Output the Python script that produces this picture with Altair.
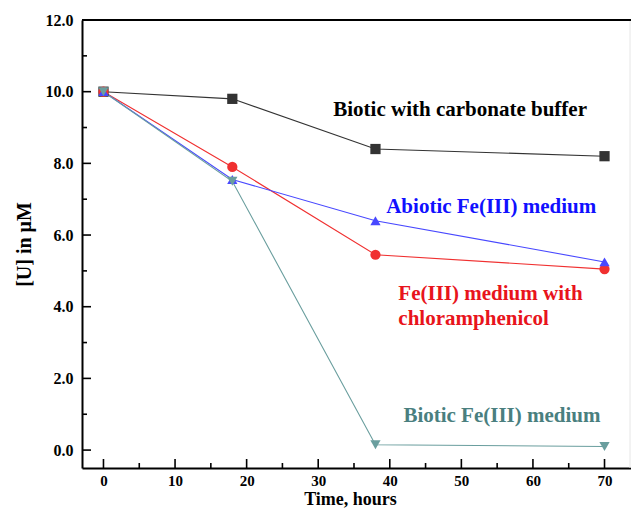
import altair as alt
import pandas as pd

# ---- data ----
time = [0, 18, 38, 70]
series_names = [
    "Biotic with carbonate buffer",
    "Fe(III) medium with chloramphenicol",
    "Abiotic Fe(III) medium",
    "Biotic Fe(III) medium",
]
carbonate = [10.0, 9.8, 8.4, 8.2]
chloram = [10.0, 7.9, 5.45, 5.05]
abiotic = [10.0, 7.55, 6.4, 5.25]
biotic_fe = [10.0, 7.5, 0.15, 0.1]

marker_colors = ["#000000", "#e8141c", "#1010ff", "#4a7f7f"]
line_colors = ["#333333", "#f03030", "#4848ff", "#6a9e9e"]
shapes = ["square", "circle", "triangle-up", "triangle-down"]

label_lines = [
    "Biotic with carbonate buffer",
    "Abiotic Fe(III) medium",
    "Fe(III) medium with",
    "chloramphenicol",
    "Biotic Fe(III) medium",
]
label_x = [32.1, 39.5, 41.2, 41.2, 41.9]
label_y = [9.49, 6.79, 4.36, 3.66, 0.96]
label_colors = ["#000000", "#1010ff", "#e8141c", "#e8141c", "#4a7f7f"]

x_major = [0, 10, 20, 30, 40, 50, 60, 70]
x_minor = [5, 15, 25, 35, 45, 55, 65]
y_major = [0, 2, 4, 6, 8, 10, 12]
y_minor = [1, 3, 5, 7, 9, 11]

# ---- build tables ----
rows = []
for name, vals in zip(series_names, [carbonate, chloram, abiotic, biotic_fe]):
    for t, v in zip(time, vals):
        rows.append({"series": name, "time": t, "U": v})
df = pd.DataFrame(rows)

labels_df = pd.DataFrame({"text": label_lines, "x": label_x, "y": label_y, "c": label_colors})

W, H = 549, 448
FONT = "Liberation Serif"

xs = alt.Scale(domain=[-3, 73.7], nice=False, zero=False)
ys = alt.Scale(domain=[-0.5, 12], nice=False, zero=False)

x_enc = alt.X(
    "time:Q", scale=xs,
    axis=alt.Axis(values=x_major, format="d", title="Time, hours", ticks=False,
                  labelPadding=5, labelFontSize=15, titlePadding=2, titleX=268, titleFontSize=18),
)
y_enc = alt.Y(
    "U:Q", scale=ys,
    axis=alt.Axis(values=y_major, format=".1f", title="[U] in \u03bcM", ticks=False,
                  labelPadding=9, labelFontSize=16, titlePadding=11, titleFontSize=20),
)

lines = alt.Chart(df).mark_line(strokeWidth=1.1).encode(
    x=x_enc, y=y_enc,
    color=alt.Color("series:N", scale=alt.Scale(domain=series_names, range=line_colors), legend=None),
    order="time:Q",
)
points = alt.Chart(df).mark_point(filled=True, size=105, opacity=1).encode(
    x="time:Q", y="U:Q",
    color=alt.Color("series:N", scale=alt.Scale(domain=series_names, range=marker_colors), legend=None),
    shape=alt.Shape("series:N", scale=alt.Scale(domain=series_names, range=shapes), legend=None),
)

texts = alt.Chart(labels_df).mark_text(
    align="left", baseline="middle", font=FONT, fontWeight="bold", fontSize=21
).encode(
    x=alt.X("x:Q", scale=xs), y=alt.Y("y:Q", scale=ys),
    color=alt.Color("c:N", scale=None),
    text="text:N",
)

# inward ticks
xmaj = alt.Chart(pd.DataFrame({"v": x_major})).mark_rule(color="black", strokeWidth=1.6).encode(
    x=alt.X("v:Q", scale=xs), y=alt.value(H), y2=alt.value(H - 9))
xmin = alt.Chart(pd.DataFrame({"v": x_minor})).mark_rule(color="black", strokeWidth=1.6).encode(
    x=alt.X("v:Q", scale=xs), y=alt.value(H), y2=alt.value(H - 5))
ymaj = alt.Chart(pd.DataFrame({"v": y_major})).mark_rule(color="black", strokeWidth=1.6).encode(
    y=alt.Y("v:Q", scale=ys), x=alt.value(0), x2=alt.value(9))
ymin = alt.Chart(pd.DataFrame({"v": y_minor})).mark_rule(color="black", strokeWidth=1.6).encode(
    y=alt.Y("v:Q", scale=ys), x=alt.value(0), x2=alt.value(5))

# frame: top border (black) and faint right edge
frame_df = pd.DataFrame({"k": [0]})
top_line = alt.Chart(frame_df).mark_rule(color="black", strokeWidth=2).encode(
    x=alt.value(0), x2=alt.value(W), y=alt.value(0))
right_line = alt.Chart(frame_df).mark_rule(color="#e6e6e6", strokeWidth=1).encode(
    x=alt.value(W - 1), y=alt.value(0), y2=alt.value(H))

chart = alt.layer(right_line, top_line, xmaj, xmin, ymaj, ymin, lines, points, texts).properties(
    width=W, height=H,
    autosize=alt.AutoSizeParams(type="none"),
    padding={"left": 74, "top": 12, "right": 0, "bottom": 42},
).configure_view(
    stroke=None,
).configure_axis(
    grid=False, domainColor="black", domainWidth=2,
    labelFont=FONT, labelFontWeight="bold", labelColor="black",
    titleFont=FONT, titleFontWeight="bold", titleColor="black",
)

chart.save("out.html", embed_options={"renderer": "svg", "actions": False})
